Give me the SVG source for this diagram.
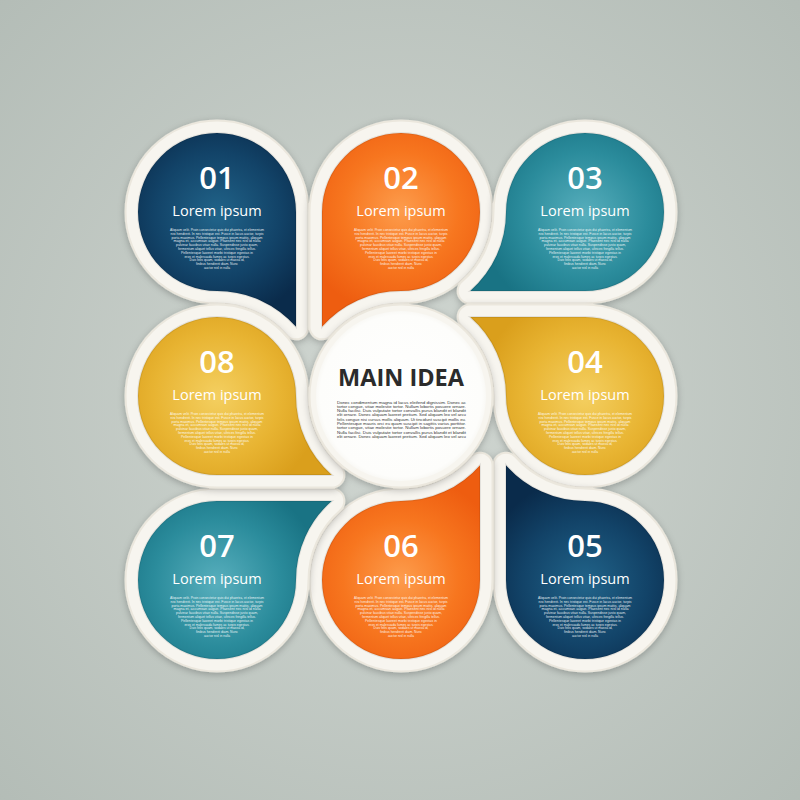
<svg xmlns="http://www.w3.org/2000/svg" width="800" height="800" viewBox="0 0 800 800">
<style>
.ring{fill:none;stroke:#ebe7dd;stroke-width:27;stroke-linejoin:round;filter:url(#sh)}
.ringhi{fill:none;stroke:#f7f5ef;stroke-width:23;stroke-linejoin:round}
.edge{fill:none;stroke:#000;stroke-opacity:.08;stroke-width:2}
.num{font-family:"Open Sans","Liberation Sans",sans-serif;font-weight:600;font-size:31px;fill:#fff;text-anchor:middle}
.lab{font-family:"Open Sans","Liberation Sans",sans-serif;font-size:14.5px;fill:#fff;text-anchor:middle}
.bt{font-family:"Liberation Sans","DejaVu Sans",sans-serif;font-size:3.6px;fill:#fff;fill-opacity:.9;text-anchor:middle}
.main{font-family:"Open Sans","Liberation Sans",sans-serif;font-weight:700;font-size:23.5px;fill:#2b2b2b;text-anchor:middle}
.mt{font-family:"Liberation Sans","DejaVu Sans",sans-serif;font-size:4.2px;fill:#333}
</style>
<defs>
<radialGradient id="bg" cx="400" cy="400" r="580" gradientUnits="userSpaceOnUse">
<stop offset="0" stop-color="#d1d7d2"/><stop offset="1" stop-color="#b3bcb6"/>
</radialGradient>
<filter id="sh" x="-20%" y="-20%" width="140%" height="140%">
<feDropShadow dx="0" dy="2" stdDeviation="3.5" flood-color="#000" flood-opacity="0.24"/>
</filter>
<radialGradient id="g1" cx="217" cy="215" r="105" gradientUnits="userSpaceOnUse">
<stop offset="0" stop-color="#21648a"/><stop offset="0.6" stop-color="#124368"/><stop offset="1" stop-color="#0a2b4b"/>
</radialGradient>
<radialGradient id="g5" href="#g1" cx="585" cy="583" r="105" gradientUnits="userSpaceOnUse"/>
<radialGradient id="g2" cx="401" cy="210" r="105" gradientUnits="userSpaceOnUse">
<stop offset="0" stop-color="#fd9c4c"/><stop offset="0.55" stop-color="#f7761f"/><stop offset="1" stop-color="#ee5d10"/>
</radialGradient>
<radialGradient id="g6" href="#g2" cx="401" cy="578" r="105" gradientUnits="userSpaceOnUse"/>
<radialGradient id="g3" cx="585" cy="215" r="105" gradientUnits="userSpaceOnUse">
<stop offset="0" stop-color="#58afbd"/><stop offset="0.6" stop-color="#2b8c9c"/><stop offset="1" stop-color="#197384"/>
</radialGradient>
<radialGradient id="g7" href="#g3" cx="217" cy="583" r="105" gradientUnits="userSpaceOnUse"/>
<radialGradient id="g4" cx="585" cy="396" r="105" gradientUnits="userSpaceOnUse">
<stop offset="0" stop-color="#f4cf60"/><stop offset="0.6" stop-color="#e8b432"/><stop offset="1" stop-color="#da9f1c"/>
</radialGradient>
<radialGradient id="g8" href="#g4" cx="217" cy="396" r="105" gradientUnits="userSpaceOnUse"/>
<radialGradient id="gc" cx="401" cy="396" r="95" gradientUnits="userSpaceOnUse">
<stop offset="0" stop-color="#ffffff"/><stop offset="0.85" stop-color="#fdfdfb"/><stop offset="1" stop-color="#f1efe8"/>
</radialGradient>
<path id="p1" d="M296,212 L296,326.83 A105,105 0 0 0 217,291 A79,79 0 1 1 296,212 Z"/>
<path id="p2" d="M322,212 L322,326.83 A105,105 0 0 1 401,291 A79,79 0 1 0 322,212 Z"/>
<path id="p3" d="M585,291 L470.17,291 A105,105 0 0 0 506,212 A79,79 0 1 1 585,291 Z"/>
<path id="p4" d="M585,317 L470.17,317 A105,105 0 0 1 506,396 A79,79 0 1 0 585,317 Z"/>
<path id="p5" d="M506,580 L506,465.17 A105,105 0 0 0 585,501 A79,79 0 1 1 506,580 Z"/>
<path id="p6" d="M480,580 L480,465.17 A105,105 0 0 1 401,501 A79,79 0 1 0 480,580 Z"/>
<path id="p7" d="M217,501 L331.83,501 A105,105 0 0 0 296,580 A79,79 0 1 1 217,501 Z"/>
<path id="p8" d="M217,475 L331.83,475 A105,105 0 0 1 296,396 A79,79 0 1 0 217,475 Z"/>
<g id="body">
<text class="bt" y="19" textLength="94" lengthAdjust="spacingAndGlyphs">Aliquam velit. Proin consectetur quis dui pharetra, et elementum</text>
<text class="bt" y="22.8" textLength="93" lengthAdjust="spacingAndGlyphs">nisi hendrerit. In nec tristique est. Fusce in lacus auctor, turpis</text>
<text class="bt" y="26.6" textLength="91" lengthAdjust="spacingAndGlyphs">porta maximus. Pellentesque tempus ipsum mattis, aliquam</text>
<text class="bt" y="30.4" textLength="87" lengthAdjust="spacingAndGlyphs">magna et, accumsan augue. Praesent nec nisl id nulla</text>
<text class="bt" y="34.2" textLength="82" lengthAdjust="spacingAndGlyphs">pulvinar faucibus vitae nulla. Suspendisse justo quam,</text>
<text class="bt" y="38" textLength="78" lengthAdjust="spacingAndGlyphs">fermentum aliquet tellus vitae, ultrices fringilla tellus.</text>
<text class="bt" y="41.8" textLength="72" lengthAdjust="spacingAndGlyphs">Pellentesque laoreet morbi tristique egestas in</text>
<text class="bt" y="45.6" textLength="65" lengthAdjust="spacingAndGlyphs">eros et malesuada fames ac turpis egestas.</text>
<text class="bt" y="49.4" textLength="55" lengthAdjust="spacingAndGlyphs">Duis felis quam, sodales ut massa id,</text>
<text class="bt" y="53.2" textLength="42" lengthAdjust="spacingAndGlyphs">finibus hendrerit diam. Nunc</text>
<text class="bt" y="57" textLength="26" lengthAdjust="spacingAndGlyphs">auctor nisl in nulla</text>
</g>
</defs>
<rect width="800" height="800" fill="url(#bg)"/>

<g id="node-01">
<use href="#p1" class="ring"/><use href="#p1" class="ringhi"/><use href="#p1" fill="url(#g1)"/><use href="#p1" class="edge"/>
<text class="num" x="217" y="189">01</text>
<text class="lab" x="217" y="216">Lorem ipsum</text>
<use href="#body" x="217" y="212"/>
</g>
<g id="node-02">
<use href="#p2" class="ring"/><use href="#p2" class="ringhi"/><use href="#p2" fill="url(#g2)"/><use href="#p2" class="edge"/>
<text class="num" x="401" y="189">02</text>
<text class="lab" x="401" y="216">Lorem ipsum</text>
<use href="#body" x="401" y="212"/>
</g>
<g id="node-03">
<use href="#p3" class="ring"/><use href="#p3" class="ringhi"/><use href="#p3" fill="url(#g3)"/><use href="#p3" class="edge"/>
<text class="num" x="585" y="189">03</text>
<text class="lab" x="585" y="216">Lorem ipsum</text>
<use href="#body" x="585" y="212"/>
</g>
<g id="node-04">
<use href="#p4" class="ring"/><use href="#p4" class="ringhi"/><use href="#p4" fill="url(#g4)"/><use href="#p4" class="edge"/>
<text class="num" x="585" y="373">04</text>
<text class="lab" x="585" y="400">Lorem ipsum</text>
<use href="#body" x="585" y="396"/>
</g>
<g id="node-05">
<use href="#p5" class="ring"/><use href="#p5" class="ringhi"/><use href="#p5" fill="url(#g5)"/><use href="#p5" class="edge"/>
<text class="num" x="585" y="557">05</text>
<text class="lab" x="585" y="584">Lorem ipsum</text>
<use href="#body" x="585" y="580"/>
</g>
<g id="node-06">
<use href="#p6" class="ring"/><use href="#p6" class="ringhi"/><use href="#p6" fill="url(#g6)"/><use href="#p6" class="edge"/>
<text class="num" x="401" y="557">06</text>
<text class="lab" x="401" y="584">Lorem ipsum</text>
<use href="#body" x="401" y="580"/>
</g>
<g id="node-07">
<use href="#p7" class="ring"/><use href="#p7" class="ringhi"/><use href="#p7" fill="url(#g7)"/><use href="#p7" class="edge"/>
<text class="num" x="217" y="557">07</text>
<text class="lab" x="217" y="584">Lorem ipsum</text>
<use href="#body" x="217" y="580"/>
</g>
<g id="node-08">
<use href="#p8" class="ring"/><use href="#p8" class="ringhi"/><use href="#p8" fill="url(#g8)"/><use href="#p8" class="edge"/>
<text class="num" x="217" y="373">08</text>
<text class="lab" x="217" y="400">Lorem ipsum</text>
<use href="#body" x="217" y="396"/>
</g>

<g id="main-idea">
<circle cx="401" cy="396" r="79" class="ring"/>
<circle cx="401" cy="396" r="79" class="ringhi"/>
<circle cx="401" cy="396" r="85" fill="url(#gc)"/>
<text class="main" x="401" y="386">MAIN IDEA</text>
<text class="mt" x="337" y="403.5" textLength="129" lengthAdjust="spacingAndGlyphs">Donec condimentum magna id lacus eleifend dignissim. Donec ac</text>
<text class="mt" x="337" y="407.8" textLength="129" lengthAdjust="spacingAndGlyphs">tortor congue, vitae molestie tortor. Nullam lobortis posuere ornare.</text>
<text class="mt" x="337" y="412.1" textLength="129" lengthAdjust="spacingAndGlyphs">Nulla facilisi. Duis vulputate tortor convallis purus blandit et blandit</text>
<text class="mt" x="337" y="416.4" textLength="129" lengthAdjust="spacingAndGlyphs">elit ornare. Donec aliquam laoreet pretium. Sed aliquam leo vel arcu</text>
<text class="mt" x="337" y="420.7" textLength="129" lengthAdjust="spacingAndGlyphs">felis congue nisi cursus mollis aliquam. Ut tincidunt suscipit mollis eu.</text>
<text class="mt" x="337" y="425" textLength="129" lengthAdjust="spacingAndGlyphs">Pellentesque mauris orci eu quam suscipit in sagittis varius porttitor.</text>
<text class="mt" x="337" y="429.3" textLength="129" lengthAdjust="spacingAndGlyphs">tortor congue, vitae molestie tortor. Nullam lobortis posuere ornare.</text>
<text class="mt" x="337" y="433.6" textLength="129" lengthAdjust="spacingAndGlyphs">Nulla facilisi. Duis vulputate tortor convallis purus blandit et blandit</text>
<text class="mt" x="337" y="437.9" textLength="129" lengthAdjust="spacingAndGlyphs">elit ornare. Donec aliquam laoreet pretium. Sed aliquam leo vel arcu</text>
</g>
</svg>
